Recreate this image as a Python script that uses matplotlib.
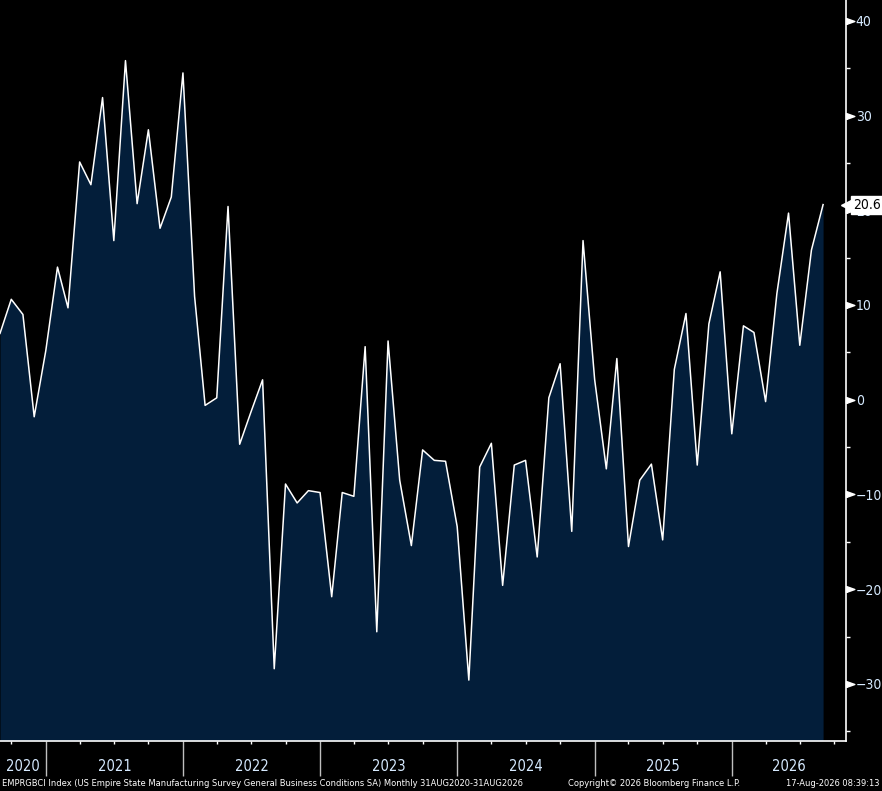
import matplotlib
matplotlib.use("Agg")
import matplotlib.pyplot as plt
import pandas as pd

# EMPRGBCI monthly values, Aug 2020 .. Aug 2026
months = pd.date_range("2020-08-31", "2026-08-31", freq="ME")
values = [
    7.0, 10.6, 9.0, -1.8, 5.2,
    14.0, 9.7, 25.1, 22.7, 31.9, 16.8, 35.8, 20.7, 28.5, 18.1, 21.4, 34.5,
    10.9, -0.6, 0.2, 20.4, -4.7, -1.3, 2.1, -28.4, -8.9, -10.9, -9.6, -9.8,
    -20.8, -9.8, -10.2, 5.6, -24.5, 6.2, -8.5, -15.4, -5.3, -6.4, -6.5, -13.4,
    -29.6, -7.1, -4.6, -19.6, -6.9, -6.4, -16.6, 0.2, 3.8, -13.9, 16.8, 2.1,
    -7.3, 4.35, -15.5, -8.5, -6.8, -14.8, 3.2, 9.1, -6.9, 8.0, 13.5, -3.6,
    7.8, 7.1, -0.2, 11.2, 19.7, 5.75, 15.8, 20.6,
]
years = ["2020", "2021", "2022", "2023", "2024", "2025", "2026"]
y_major = [-30, -20, -10, 0, 10, 20, 30, 40]
y_minor = [-35, -25, -15, -5, 5, 15, 25, 35]

footer_left = ("EMPRGBCI Index (US Empire State Manufacturing Survey General Business "
               "Conditions SA) Monthly 31AUG2020-31AUG2026")
footer_mid = "Copyright\u00a9 2026 Bloomberg Finance L.P."
footer_right = "17-Aug-2026 08:39:13"

navy = "#031e3a"
label_col = "#d6eaff"
ymin, ymax = -36.0, 42.2
x_start = pd.Timestamp("2020-08-31")
x_end = pd.Timestamp("2026-10-31")

fig = plt.figure(figsize=(8.82, 7.91), dpi=100, facecolor="black")
ax = fig.add_axes([0, 1 - 740.7 / 791, 846 / 882, 740.7 / 791])
ax.set_facecolor("black")

ax.fill_between(months, values, ymin, color=navy, lw=0)
ax.plot(months, values, color="white", lw=1.1)

ax.set_xlim(x_start, x_end)
ax.set_ylim(ymin, ymax)

for s in ["left", "top"]:
    ax.spines[s].set_visible(False)
for s in ["right", "bottom"]:
    ax.spines[s].set_color("white")
    ax.spines[s].set_linewidth(1.2)

# y axis on the right
ax.yaxis.tick_right()
ax.set_yticks(y_major)
ax.set_yticks(y_minor, minor=True)
ax.set_yticklabels([f"{v:d}".replace("-", "\u2212") for v in y_major])
ax.tick_params(axis="y", which="major", length=0, pad=7, labelsize=10,
               labelcolor=label_col)
ax.tick_params(axis="y", which="minor", length=3, width=1, color="white",
               direction="out")
for lab in ax.get_yticklabels():
    lab.set_fontstretch("condensed")
tri = [(0, -0.5), (0, 0.5), (1.4, 0), (0, -0.5)]
ax.plot([1] * len(y_major), y_major, transform=ax.get_yaxis_transform(),
        ls="none", marker=tri, ms=12, color="white", clip_on=False)

# x axis: year separators and quarterly ticks
seps = [pd.Timestamp(f"{y}-12-31") for y in years[:-1]]
quarters = [d for d in pd.date_range(x_start, x_end, freq="QE") if d.month != 12]
ax.set_xticks(seps)
ax.set_xticks(quarters, minor=True)
ax.set_xticklabels([])
ax.tick_params(axis="x", which="major", length=25, width=1, color="#bfbfbf",
               direction="out")
ax.tick_params(axis="x", which="minor", length=2.5, width=1, color="white",
               direction="out")

edges = [x_start] + seps + [x_end]
for i, yr in enumerate(years):
    mid = edges[i] + (edges[i + 1] - edges[i]) / 2
    ax.text(mid, -0.035, yr, transform=ax.get_xaxis_transform(), ha="center",
            va="center", fontsize=10.5, color=label_col, fontstretch="condensed")

# last value tag
last = values[-1]
ax.plot([1], [last], transform=ax.get_yaxis_transform(), ls="none",
        marker="<", ms=7, color="white", clip_on=False, zorder=5)
ax.annotate(f"{last:.1f}", xy=(1, last), xycoords=ax.get_yaxis_transform(),
            xytext=(5, 0), textcoords="offset points", ha="left", va="center",
            fontsize=10, color="black", zorder=6, fontstretch="condensed",
            bbox=dict(boxstyle="square,pad=0.15", fc="white", ec="white"))

fy = 1 - 784 / 791
for x, txt, ha in [(2, footer_left, "left"), (568, footer_mid, "left"),
                   (880, footer_right, "right")]:
    fig.text(x / 882, fy, txt, fontsize=6.7, color="white", ha=ha,
             va="center", fontstretch="condensed")

fig.savefig("out.png", dpi=100, facecolor="black")
